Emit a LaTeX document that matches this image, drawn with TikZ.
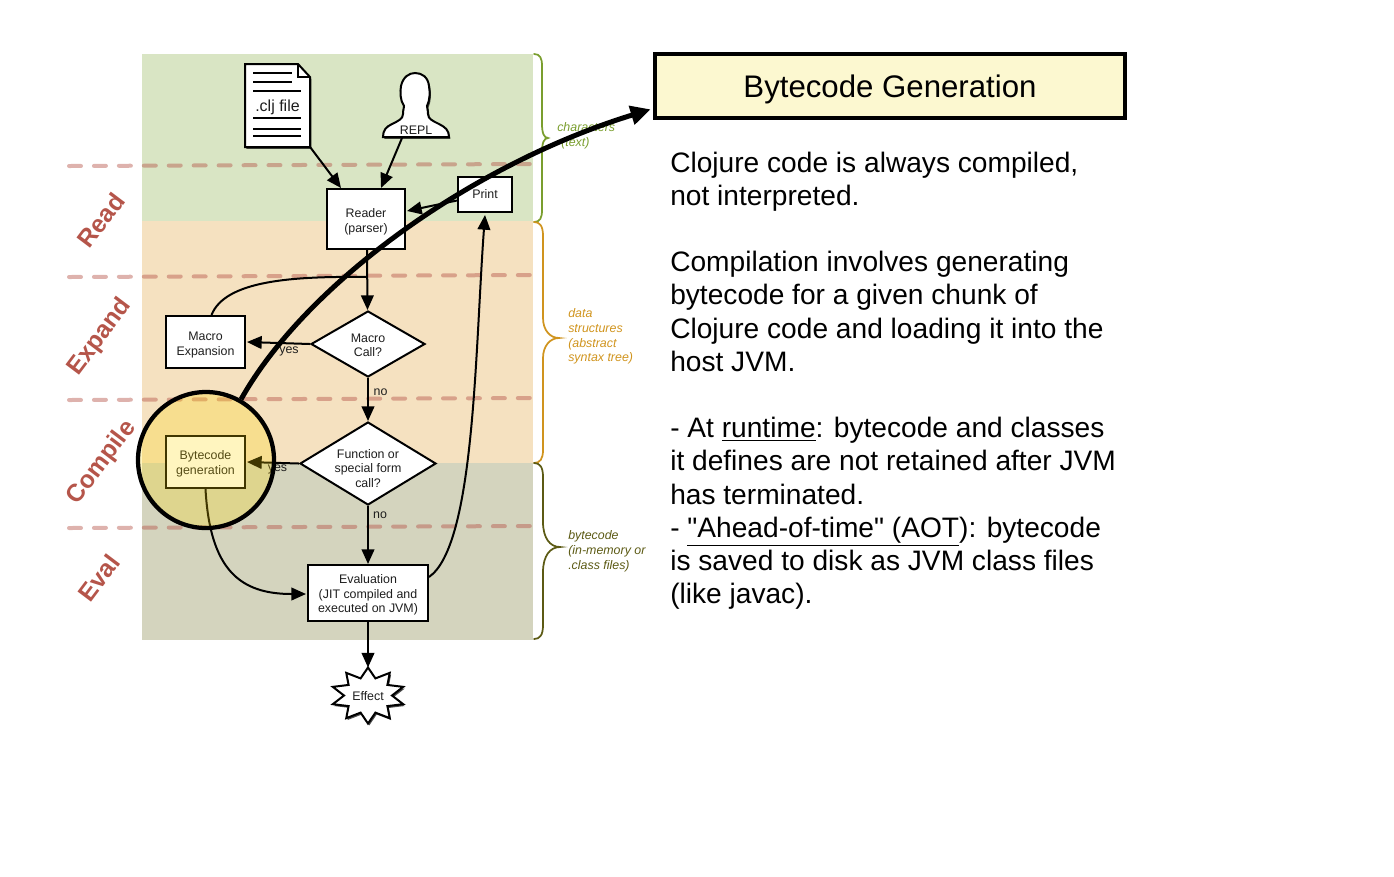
\documentclass[tikz,border=0pt]{standalone}
\usepackage{fontspec}
\setmainfont{Liberation Sans}[Ligatures=TeXOff]
\usetikzlibrary{arrows.meta,shapes.geometric,shadows,calc}
\definecolor{txt}{HTML}{1E1E1E}
\definecolor{bandgreen}{HTML}{D9E5C4}
\definecolor{bandorange}{HTML}{F5E1C0}
\definecolor{bandolive}{HTML}{D4D4BE}
\definecolor{cgreen}{HTML}{7A9E2E}
\definecolor{corange}{HTML}{D0941E}
\definecolor{colive}{HTML}{5C5A14}
\definecolor{phase}{HTML}{B5554A}
\definecolor{paleyellow}{HTML}{FCF8D0}
\definecolor{lens}{HTML}{FFD800}
\newcommand{\dn}[1]{\rule{0pt}{#1pt}}
\tikzset{
  x=0.75pt,y=-0.75pt,
  flowbox/.style={draw=black,line width=1.5pt,fill=white,inner sep=0pt,align=center,text=txt,
    font=\fontsize{9.3}{11}\selectfont},
  flowdia/.style={flowbox,diamond,aspect=1.64},
  flowarrow/.style={draw=black,line width=1.5pt,-{Triangle[length=11pt,width=9.5pt]}},
  flowline/.style={draw=black,line width=1.5pt},
  tiny label/.style={inner sep=0pt,text=txt,align=center,font=\fontsize{9.3}{11}\selectfont},
  phasedash/.style={line width=3pt,draw=phase,draw opacity=.45,dash pattern=on 9pt off 9.7pt,line cap=round},
  phaselabel/.style={inner sep=0pt,text=phase,rotate=53,font=\fontsize{18.5}{22}\selectfont\bfseries},
  bracestyle/.style={line width=1.3pt,line cap=round},
  bracetext/.style={inner sep=0pt,align=left,anchor=north west,font=\fontsize{9.3}{11}\selectfont\itshape},
  softshadow/.style={drop shadow={shadow xshift=1pt,shadow yshift=-1.4pt,opacity=.7,fill=black}},
}
\begin{document}
\begin{tikzpicture}
\useasboundingbox (0,0) rectangle (1394,876);
% bands
\fill[bandgreen] (142,54) rectangle (533,221);
\fill[bandorange] (142,221) rectangle (533,463);
\fill[bandolive] (142,463) rectangle (533,640);
% dashes
\draw[phasedash] (69,166) -- (530,164);
\draw[phasedash] (69,277) -- (530,275);
\draw[phasedash] (69,400) -- (530,398);
\draw[phasedash] (69,528) -- (530,526);
% phases
\node[phaselabel] (pread) at (101,220) {Read};
\node[phaselabel] (pexpand) at (100,337) {Expand};
\node[phaselabel] (pcompile) at (102,463) {Compile};
\node[phaselabel] (peval) at (99,578) {Eval};
% braces
\draw[bracestyle,cgreen] (534,54) .. controls (540,54) and (542,58) .. (542,66) -- (542,124) .. controls (542,133) and (544,138) .. (548,138) .. controls (544,138) and (542,143) .. (542,152) -- (542,210) .. controls (542,218) and (540,222) .. (534,222);
\draw[bracestyle,corange] (534,222) .. controls (540,222) and (543,226) .. (543,236) -- (543,318) .. controls (543,330) and (550,338) .. (559,338) .. controls (550,338) and (543,346) .. (543,358) -- (543,450) .. controls (543,459) and (540,463) .. (534,463);
\draw[bracestyle,colive] (534,463) .. controls (540,463) and (543,467) .. (543,477) -- (543,522) .. controls (543,538) and (550,547) .. (560,547) .. controls (550,547) and (543,556) .. (543,572) -- (543,625) .. controls (543,635) and (540,639) .. (534,639);
\node[bracetext,text=cgreen] (tchars) at (557,122.5) {characters\\\hspace*{3pt}(text)};
\node[bracetext,text=corange] (tdata) at (568,308.5) {data\\structures\\(abstract\\syntax tree)};
\node[bracetext,text=colive] (tbyte) at (568,530.5) {bytecode\\(in-memory or\\.class files)};
% document
\path[draw=black,line width=1.5pt,fill=white,softshadow] (245,64) -- (298,64) -- (310,77) -- (310,147) -- (245,147) -- cycle;
\draw[line width=1pt] (298,64) -- (298,77) -- (310,77);
\foreach \ya/\xb in {73/292,82/292,91/301,118/301,129/301,136/301}
  \draw[line width=1.5pt] (253,\ya) -- (\xb,\ya);
\node[inner sep=0pt,text=txt,font=\fontsize{12}{14}\selectfont,minimum width=48.75pt,minimum height=59.25pt] (doc) at (277.5,107.5) {.clj file};
% person
\path[draw=black,line width=1.5pt,fill=white,softshadow] (383,137) .. controls (383,130) and (386,127) .. (392,124) .. controls (398,121) and (403,119) .. (403,114) .. controls (403,110) and (404,108) .. (404,106) .. controls (400,100) and (400,92) .. (401,86) .. controls (403,77) and (409,73) .. (415,73) .. controls (422,73) and (428,77) .. (429,86) .. controls (430,92) and (430,100) .. (427,106) .. controls (427,108) and (428,110) .. (428,114) .. controls (428,119) and (433,121) .. (439,124) .. controls (445,127) and (449,130) .. (449,137) -- cycle;
\node[tiny label] (repl) at (416,130.5) {REPL};
\coordinate (replfoot) at (402,138);
% flow nodes
\node[flowbox,minimum width=58.5pt,minimum height=45pt] (reader) at (366,219) {\dn{10.5}Reader\\(parser)};
\node[flowbox,minimum width=40.5pt,minimum height=26.25pt] (print) at (485,194.5) {Print};
\node[flowdia,minimum width=85.5pt,minimum height=49.5pt] (macro) at (368,344) {\dn{8.3}Macro\\Call?};
\node[flowbox,minimum width=59.25pt,minimum height=39pt] (expansion) at (205.5,342) {\dn{10.5}Macro\\Expansion};
\node[flowdia,minimum width=102pt,minimum height=62.25pt] (func) at (368,463.5) {};
\node[tiny label] (functext) at (368,468.5) {Function or\\special form\\call?};
\node[flowbox,minimum width=59.25pt,minimum height=39pt] (bytecode) at (205.5,462) {\dn{9.8}Bytecode\\generation};
\node[flowbox,minimum width=90pt,minimum height=42pt] (eval) at (368,593) {\dn{9.8}Evaluation\\(JIT compiled and\\executed on JVM)};
% star
\path[draw=black,line width=1.5pt,fill=white,softshadow] plot[samples=20,domain=0:19,variable=\i] ({368+(mod(\i,2)==0?37:24)*cos(90-18*\i)},{695.5-(mod(\i,2)==0?28:18)*sin(90-18*\i)}) -- cycle;
\node[tiny label] (effect) at (368,696.5) {Effect};
% connectors
\draw[flowarrow] (doc.south east) -- ($(reader.north west)+(15,0)$);
\draw[flowarrow] (replfoot) -- ($(reader.north east)+(-25,0)$);
\draw[flowarrow] ($(print.west)+(0,6)$) -- ($(reader.east)+(1,-8)$);
\draw[flowarrow] ($(reader.south)+(1,0)$) -- ($(macro.north)+(-0.5,0)$);
\coordinate (merge) at (367,277);
\draw[flowline] ($(expansion.north)+(6,0)$) .. controls (225,281) and (290,276) .. (merge);
\draw[flowarrow] (macro.west) -- ($(expansion.east)+(1,0)$);
\draw[flowarrow] (macro.south) -- (func.north);
\draw[flowarrow] (func.west) -- ($(bytecode.east)+(1,0)$);
\draw[flowarrow] (func.south) -- (eval.north);
\draw[flowarrow] (bytecode.south) .. controls (210,570) and (240,594) .. ($(eval.west)+(-1,1)$);
\draw[flowarrow] ($(eval.north east)+(0,13)$) .. controls (475,545) and (475,350) .. ($(print.south)+(0,2)$);
\draw[flowarrow] (eval.south) -- ($(effect)+(0,-29)$);
\node[tiny label] (yes1) at (289,351) {yes};
\node[tiny label] (no1) at (380.5,392) {no};
\node[tiny label] (yes2) at (277.5,469.5) {yes};
\node[tiny label] (no2) at (380,515) {no};
% lens
\node[circle,draw=black,line width=3.2pt,fill=lens,fill opacity=.25,draw opacity=1,minimum size=102pt,inner sep=0pt] (lens) at (206,460) {};
% title
\node[draw=black,line width=3pt,fill=paleyellow,minimum width=353pt,minimum height=48.5pt,inner sep=0pt,text=black,font=\fontsize{23.4}{26}\selectfont] (title) at (890,86) {\raisebox{-8.5pt}[0pt][0pt]{Bytecode Generation}};
\coordinate (titletip) at ($(title.south west)+(-2,-11)$);
\draw[line width=3.75pt,-{Triangle[length=15pt,width=14pt]}] (lens.60) .. controls (305,285) and (470,165) .. (titletip);
% body text
\node[inner sep=0pt,anchor=north west,align=left,text=black,font=\fontsize{21.1}{24.9}\selectfont] (body) at (670,151.5) {Clojure code is always compiled,\\
not interpreted.\\
\mbox{}\\
Compilation involves generating\\
bytecode for a given chunk of\\
Clojure code and loading it into the\\
host JVM.\\
\mbox{}\\
- At \underline{runtime}: bytecode and classes\\
it defines are not retained after JVM\\
has terminated.\\
- \underline{"Ahead-of-time" (AOT}): bytecode\\
is saved to disk as JVM class files\\
(like javac).};
\end{tikzpicture}
\end{document}
